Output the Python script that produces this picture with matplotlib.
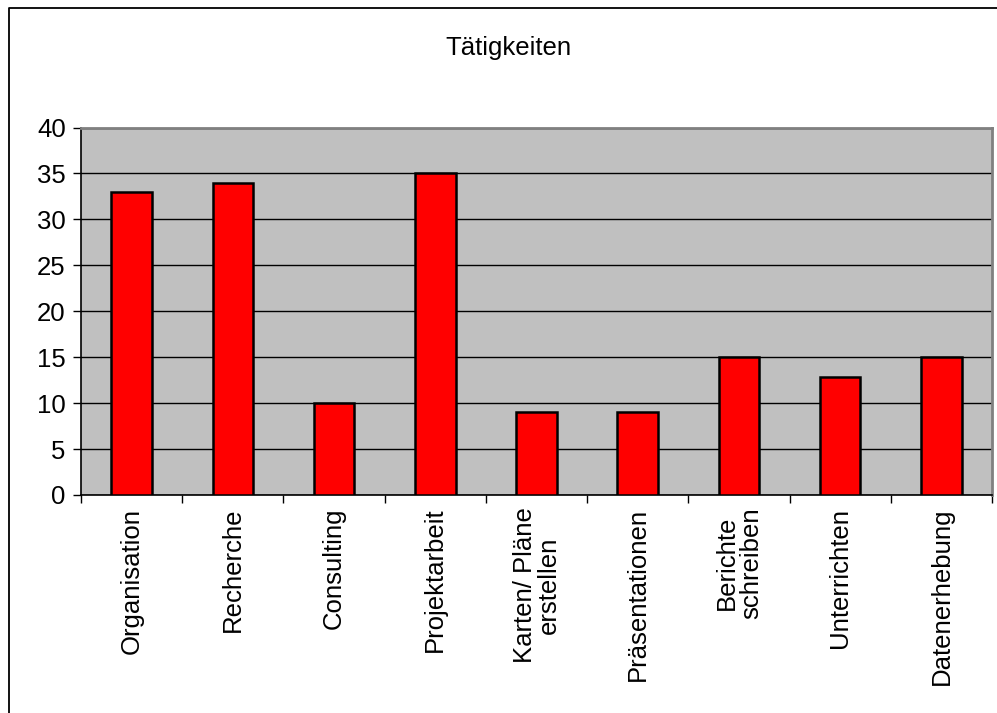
import matplotlib
matplotlib.use("Agg")
import matplotlib.pyplot as plt
from matplotlib.lines import Line2D
import numpy as np

plt.rcParams['font.family'] = ['Liberation Sans', 'DejaVu Sans']

categories = ["Organisation", "Recherche", "Consulting", "Projektarbeit",
              "Karten/ Pläne\nerstellen", "Präsentationen", "Berichte\nschreiben",
              "Unterrichten", "Datenerhebung"]
values = [33, 34, 10, 35, 9, 9, 15, 12.8, 15]
yticks = [0, 5, 10, 15, 20, 25, 30, 35, 40]
title = "Tätigkeiten"

W, H = 997, 713
fig = plt.figure(figsize=(W / 100, H / 100), dpi=100)
fig.patch.set_facecolor("white")

left, right, top, bottom = 81, 992, 127.5, 495
ax = fig.add_axes([left / W, 1 - bottom / H, (right - left) / W, (bottom - top) / H])
ax.set_facecolor("#C0C0C0")

x = np.arange(len(categories))
ax.bar(x, values, width=0.4, color="#FF0000", edgecolor="black", linewidth=1.8, zorder=3)

ax.set_xlim(-0.5, len(categories) - 0.5)
ax.set_ylim(0, 40)
ax.set_yticks(yticks)
ax.set_yticklabels([str(v) for v in yticks], fontsize=18.5)
ax.yaxis.grid(True, color="black", linewidth=1.0, zorder=1)
ax.set_axisbelow(True)

ax.set_xticks(x)
ax.set_xticklabels(categories, rotation=90, fontsize=18.5, ha="center", va="top",
                   multialignment="center", linespacing=1.0)
ax.tick_params(axis="x", which="major", length=0, pad=9)
ax.set_xticks(np.arange(-0.5, len(categories), 1.0), minor=True)
ax.tick_params(axis="x", which="minor", length=6, width=1.0, color="black", direction="out")
ax.tick_params(axis="y", length=6, width=1.0, color="black", direction="out", pad=5)

for s in ["left", "bottom"]:
    ax.spines[s].set_color("black")
    ax.spines[s].set_linewidth(1.2)
for s in ["top", "right"]:
    ax.spines[s].set_color("#808080")
    ax.spines[s].set_linewidth(2.0)

fig.text(508 / W, 1 - 48 / H, title, ha="center", va="center", fontsize=18.5)

# outer chart border (left and top visible)
bx, by = 8.5 / W, 1 - 8 / H
fig.add_artist(Line2D([bx, bx, 1.01], [-0.01, by, by], transform=fig.transFigure,
                      color="black", linewidth=1.3))

fig.savefig("out.png", dpi=100)
